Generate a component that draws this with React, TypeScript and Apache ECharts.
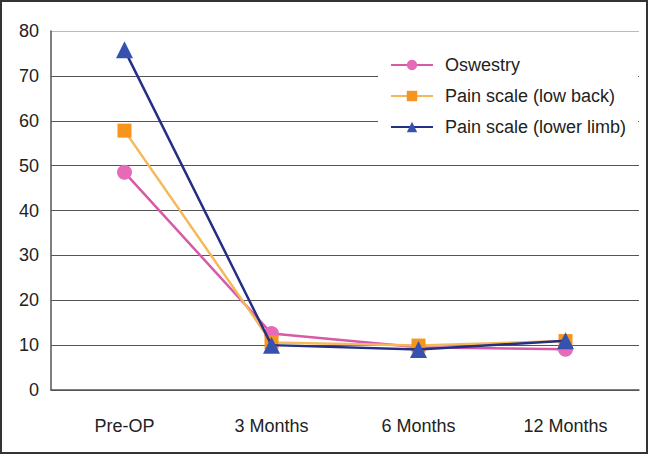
import React, { useEffect, useRef } from "react";
import * as echarts from "echarts";

const categories = ["Pre-OP", "3 Months", "6 Months", "12 Months"];
const oswestry = [48.5, 12.6, 9.5, 9.1];
const painLowBack = [57.8, 10.6, 9.9, 10.9];
const painLowerLimb = [75.8, 10, 9, 11];
const seriesNames = ["Oswestry", "Pain scale (low back)", "Pain scale (lower limb)"];

export default function App() {
  const ref = useRef<HTMLDivElement>(null);
  useEffect(() => {
    if (!ref.current) return;
    const chart = echarts.init(ref.current, undefined, { renderer: "svg" });
    const font = "Liberation Sans, Arial, sans-serif";
    const mk = (name: string, data: number[], line: string, fill: string, symbol: string, size: number, z: number) => ({
      name,
      type: "line",
      data,
      symbol,
      symbolSize: size,
      z,
      lineStyle: { color: line, width: 2.5 },
      itemStyle: { color: fill, borderColor: fill, borderWidth: 0 },
    });
    chart.setOption({
      animation: false,
      backgroundColor: "#fff",
      textStyle: { fontFamily: font },
      grid: { left: 49, top: 29, right: 7, bottom: 62, containLabel: false },
      legend: {
        orient: "vertical",
        left: 376,
        top: 46,
        padding: [8, 12, 12, 12],
        backgroundColor: "#fff",
        itemWidth: 42,
        itemHeight: 13,
        itemGap: 13,
        textStyle: { fontSize: 18, color: "#222", fontFamily: font, padding: [0, 0, 0, 7] },
        data: seriesNames,
      },
      xAxis: {
        type: "category",
        data: categories,
        boundaryGap: true,
        axisLine: { lineStyle: { color: "#555", width: 1.5 } },
        axisTick: { inside: true, length: 7, lineStyle: { color: "#555" } },
        axisLabel: { fontSize: 18, color: "#222", margin: 27, fontFamily: font },
      },
      yAxis: {
        type: "value",
        min: 0,
        max: 80,
        interval: 10,
        axisLine: { show: true, lineStyle: { color: "#555", width: 1.5 } },
        axisTick: { show: false },
        axisLabel: { fontSize: 18, color: "#222", margin: 12, fontFamily: font },
        splitLine: {
          lineStyle: {
            color: ["#555", "#555", "#555", "#555", "#555", "#555", "#555", "#555", "#bbb"],
            width: 1,
          },
        },
      },
      series: [
        mk(seriesNames[0], oswestry, "#d65aa8", "#e56bb8", "circle", 15, 2),
        mk(seriesNames[1], painLowBack, "#f5b85a", "#f7941d", "rect", 14, 3),
        mk(seriesNames[2], painLowerLimb, "#262f86", "#3552b0", "triangle", 17, 4),
      ],
    });
    return () => chart.dispose();
  }, []);
  return (
    <div
      style={{
        position: "fixed",
        left: 0,
        top: 0,
        width: 648,
        height: 454,
        border: "2px solid #333",
        boxSizing: "border-box",
        background: "#fff",
      }}
    >
      <div ref={ref} style={{ width: 644, height: 450 }} />
    </div>
  );
}
